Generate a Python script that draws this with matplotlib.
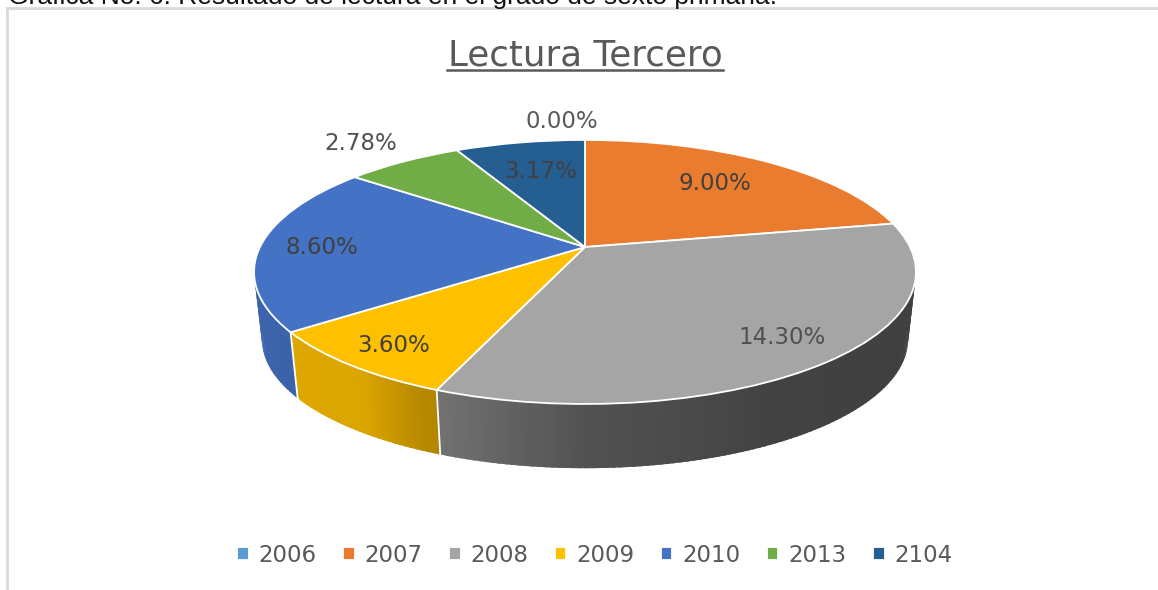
import numpy as np
import matplotlib
matplotlib.use("Agg")
import matplotlib.pyplot as plt
from matplotlib.collections import PolyCollection
from matplotlib.transforms import Transform

years = ["2006", "2007", "2008", "2009", "2010", "2013", "2104"]
values = [0.00, 9.00, 14.30, 3.60, 8.60, 2.78, 3.17]
# slice sizes as drawn in the picture (degrees), the original pie is a bit off its own labels
slice_sizes = [0, 79, 123, 31.4, 74.2, 24.8, 27.4]
colors = ["#5b9bd5", "#ea7c30", "#a5a5a5", "#ffc000", "#4472c4", "#70ad47", "#255e91"]
label_pos = [(562, 121), (715, 184), (782, 338), (394, 346), (322, 248), (361, 143), (541, 171)]
label_colors = ["#595959", "#404040", "#505050", "#404040", "#404040", "#505050", "#404040"]

# shading of the rim, by angle on the disc
shade_angle = [170, 195, 235, 245, 270, 300, 330, 370]
shade_value = [0.90, 0.88, 0.86, 0.72, 0.50, 0.40, 0.39, 0.39]


class DiscProjection(Transform):
    # puts the unit disc of the pie on screen with some perspective
    input_dims = 2
    output_dims = 2

    def __init__(self, scale=1.0, apex_y=247.0):
        super().__init__()
        self.scale = scale
        self.apex_y = apex_y

    def transform_non_affine(self, values):
        u, v = values[:, 0], values[:, 1]
        w = 1 + 0.189 * v
        x = 585 + self.scale * 325 * u / w
        y = self.apex_y - self.scale * 127.3 * v / w
        return np.column_stack([x, y])


fig = plt.figure(figsize=(11.58, 5.9), dpi=100, facecolor="white")
ax = fig.add_axes([0, 0, 1, 1])

wedges, _ = ax.pie(slice_sizes, colors=colors, startangle=90, counterclock=False,
                   wedgeprops={"edgecolor": "white", "linewidth": 1.3})
ax.set_aspect("auto")
ax.set_xlim(0, 1158)
ax.set_ylim(590, 0)
ax.axis("off")

top = DiscProjection()
bottom = DiscProjection(scale=0.976, apex_y=315.0)

for w in wedges:
    w.set_transform(top + ax.transData)
    w.set_zorder(5)


def on_disc(a):
    return [np.cos(np.radians(a)), np.sin(np.radians(a))]


# rim, thin strips from the top disc down to the bottom disc
for w, c in zip(wedges, colors):
    if w.theta2 - w.theta1 == 0:
        continue
    t1, t2 = w.theta1 % 360, w.theta2 % 360
    if t2 <= t1:
        t2 += 360
    angles = np.unique(np.concatenate([np.arange(t1, t2, 1.0), [t2]]))
    polys, fc = [], []
    base = np.array(matplotlib.colors.to_rgb(c))
    for a1, a2 in zip(angles[:-1], angles[1:]):
        a2 = min(a2 + 0.7, t2)  # small overlap so no seams show between strips
        for shift in (-360, 0, 360):
            mid = (a1 + a2) / 2 + shift
            if 170 <= mid <= 370:
                pts = np.array([on_disc(a1), on_disc(a2)])
                p = top.transform(pts)
                q = bottom.transform(pts)
                polys.append([p[0], p[1], q[1], q[0]])
                fc.append(base * np.interp(mid, shade_angle, shade_value))
    if polys:
        ax.add_collection(PolyCollection(polys, facecolors=fc, edgecolors="none", linewidths=0, zorder=2))
    # white seam between two rim pieces
    if 180 < w.theta1 % 360 < 360:
        end = np.array([on_disc(w.theta1)])
        p, q = top.transform(end)[0], bottom.transform(end)[0]
        ax.plot([p[0], q[0]], [p[1], q[1]], color="white", lw=1.3, zorder=3)

for v, pos, c in zip(values, label_pos, label_colors):
    ax.text(pos[0], pos[1], "%.2f%%" % v, color=c, fontsize=16.5, ha="center", va="center", zorder=6)

ax.text(585, 66, "Lectura Tercero", color="#595959", fontsize=25.7, ha="center", va="baseline")
ax.plot([447, 723], [70, 70], color="#595959", lw=1.8)

# caption cut by the page, and the chart frame
ax.text(8, 4, "Gráfica No. 6. Resultado de lectura en el grado de sexto primaria.",
        family="Liberation Sans", fontsize=19, color="#111111", ha="left", va="baseline", clip_on=True)
ax.plot([7, 1158], [8, 8], color="#d9d9d9", lw=2)
ax.plot([7, 7], [8, 590], color="#d9d9d9", lw=2)

ax.legend(wedges, years, loc="center", bbox_to_anchor=(595 / 1158, 1 - 555 / 590), ncol=7, frameon=False,
          fontsize=16.5, labelcolor="#595959", handlelength=0.5, handleheight=0.5,
          handletextpad=0.45, columnspacing=1.14)

fig.savefig("out.png", dpi=100)
